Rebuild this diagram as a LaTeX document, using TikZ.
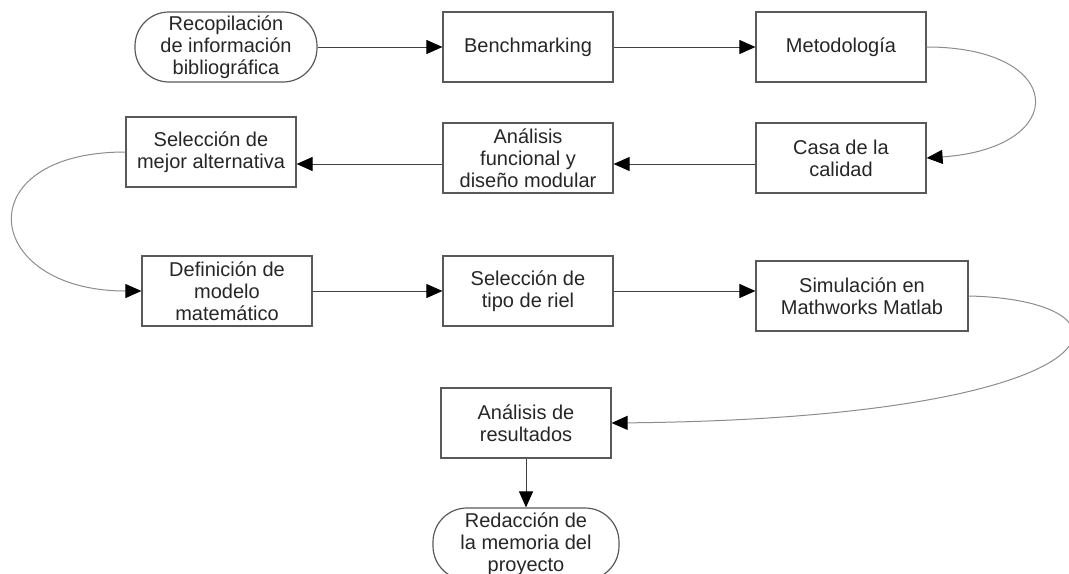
\documentclass[tikz,border=0pt]{standalone}
\usepackage{fontspec}
\setmainfont{Liberation Sans}
\usetikzlibrary{arrows.meta}

\begin{document}
\begin{tikzpicture}[x=0.5pt,y=-0.5pt,
  caja/.style={draw=black!65,line width=0.6pt,minimum width=85pt,minimum height=35pt,
               inner sep=1pt,align=center,font=\fontsize{10}{11}\selectfont,text=black!85},
  terminal/.style={caja,rounded corners=17pt,minimum width=91pt},
  flecha/.style={-{Triangle[length=8pt,width=7pt,color=black]},line width=0.5pt,black!75},
  curva/.style={-{Triangle[length=8pt,width=7pt,color=black]},line width=0.5pt,black!45}
]
\useasboundingbox (0,0) rectangle (1069,573);

\node[terminal] (recop) at (226,47) {Recopilación\\de información\\bibliográfica};
\node[caja] (bench) at (528,47) {Benchmarking};
\node[caja] (metod) at (841,47) {Metodología};
\node[caja] (casa) at (841,158) {Casa de la\\calidad};
\node[caja] (funcional) at (528,158) {Análisis\\funcional y\\diseño modular};
\node[caja] (mejor) at (211,152) {Selección de\\mejor alternativa};
\node[caja] (modelo) at (227,291) {Definición de\\modelo\\matemático};
\node[caja] (riel) at (528,291) {Selección de\\tipo de riel};
\node[caja,minimum width=106pt] (simul) at (862,296) {Simulación en\\Mathworks Matlab};
\node[caja] (result) at (526,423) {Análisis de\\resultados};
\node[terminal,minimum width=93pt,minimum height=36pt] (redac) at (526,544)
  {Redacción de\\la memoria del\\proyecto};

\draw[flecha] (recop) -- (bench);
\draw[flecha] (bench) -- (metod);
\draw[curva] (metod.east) .. controls +(140,0) and +(145,-10) .. (casa.east);
\draw[flecha] ([yshift=-3pt]casa.west) -- ([yshift=-3pt]funcional.east);
\draw[flecha] ([yshift=-3pt]funcional.west) -- ([yshift=-3pt]funcional.west -| mejor.east);
\draw[curva] (mejor.west) .. controls +(-160,0) and +(-160,0) .. (modelo.west);
\draw[flecha] (modelo) -- (riel);
\draw[flecha] (riel) -- (riel -| simul.west);
\draw[curva] (simul.east) .. controls +(182,4) and +(519,-5) .. (result.east);
\draw[flecha] (result) -- (redac);
\end{tikzpicture}
\end{document}
